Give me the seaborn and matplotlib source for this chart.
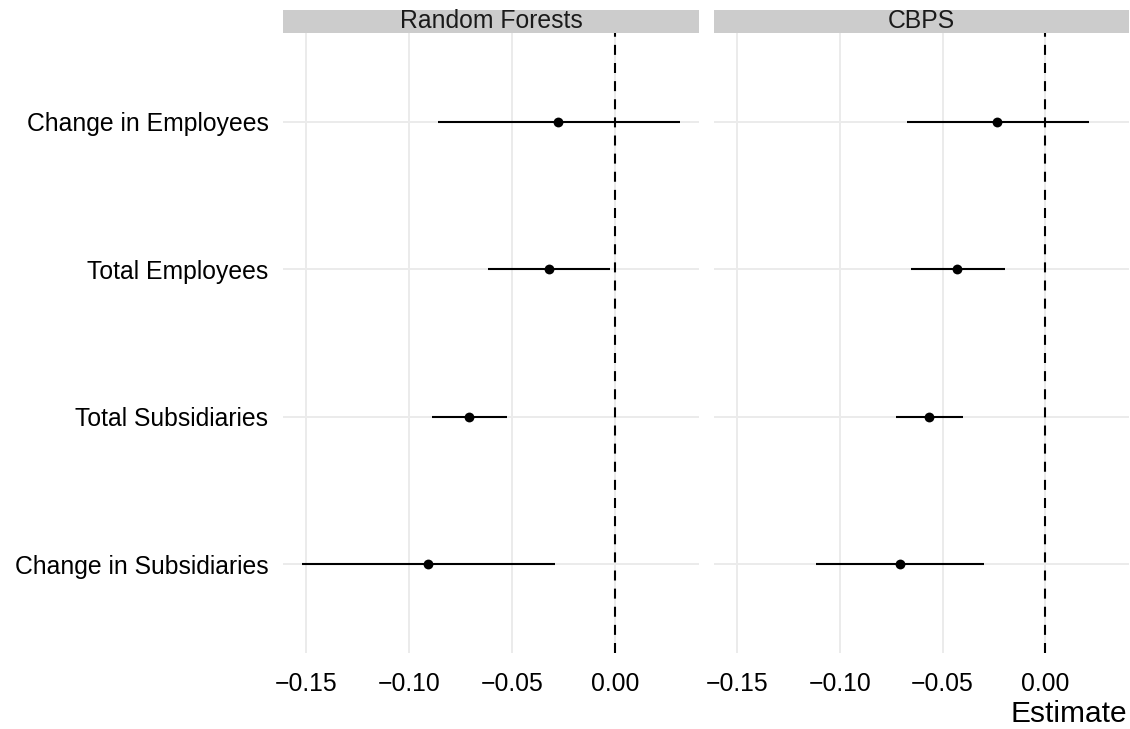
import numpy as np
import pandas as pd
import matplotlib
matplotlib.use("Agg")
import matplotlib.pyplot as plt
from matplotlib.patches import Rectangle
import seaborn as sns

# Outcomes, listed top to bottom
outcomes = ["Change in Employees", "Total Employees",
            "Total Subsidiaries", "Change in Subsidiaries"]
methods = ["Random Forests", "CBPS"]

# Point estimates and interval bounds per method
rf_est = [-0.0275, -0.0323, -0.0709, -0.0907]
rf_lo = [-0.0862, -0.0617, -0.0889, -0.1520]
rf_hi = [0.0315, -0.0024, -0.0523, -0.0294]

cbps_est = [-0.0234, -0.0428, -0.0567, -0.0709]
cbps_lo = [-0.0673, -0.0654, -0.0727, -0.1118]
cbps_hi = [0.0210, -0.0194, -0.0402, -0.0299]

x_ticks = [-0.15, -0.10, -0.05, 0.00]
x_tick_labels = ["\u22120.15", "\u22120.10", "\u22120.05", "0.00"]

frames = []
for m, est, lo, hi in [(methods[0], rf_est, rf_lo, rf_hi),
                       (methods[1], cbps_est, cbps_lo, cbps_hi)]:
    frames.append(pd.DataFrame({"method": m, "outcome": outcomes,
                                "pos": np.arange(len(outcomes)),
                                "estimate": est, "lo": lo, "hi": hi}))
df = pd.concat(frames, ignore_index=True)

sns.set_theme(style="white")
plt.rcParams["font.family"] = ["Liberation Sans", "DejaVu Sans"]

W, H = 1130, 729
fig = plt.figure(figsize=(W / 100, H / 100), dpi=100)

grid_col = "#EBEBEB"
tick_fs = 17.8

# shared x range with a 5% margin around the intervals
xmin, xmax = df["lo"].min(), df["hi"].max()
pad = 0.05 * (xmax - xmin)
xlim = (xmin - pad, xmax + pad)

panel_top, panel_bot = 33, 653
panels = [(283, 699), (714, 1129)]
strip_h = 23

for i, (m, (px0, px1)) in enumerate(zip(methods, panels)):
    ax = fig.add_axes([px0 / W, 1 - panel_bot / H, (px1 - px0) / W,
                       (panel_bot - panel_top) / H])
    sub = df[df["method"] == m]

    ax.set_xlim(*xlim)
    ax.set_ylim(len(outcomes) - 0.4, -0.6)
    ax.set_xticks(x_ticks)
    ax.set_xticklabels(x_tick_labels)
    ax.set_yticks(range(len(outcomes)))
    ax.set_yticklabels(outcomes if i == 0 else [])
    ax.grid(True, color=grid_col, linewidth=1.4, zorder=0)
    ax.set_axisbelow(True)
    for s in ax.spines.values():
        s.set_visible(False)
    ax.tick_params(axis="both", which="major", color=grid_col, width=1.4,
                   length=5, labelsize=tick_fs, labelcolor="black")
    ax.tick_params(axis="x", pad=8.5)
    ax.tick_params(axis="y", pad=5.5)

    ax.axvline(0, color="black", lw=1.5, ls=(0, (4.8, 3.9)), zorder=2)
    ax.hlines(sub["pos"], sub["lo"], sub["hi"], color="black", lw=1.5,
              zorder=3)
    sns.scatterplot(data=sub, x="estimate", y="pos", ax=ax, color="black",
                    s=50, edgecolor="black", linewidth=0, zorder=4,
                    legend=False)
    ax.set_xlabel("")
    ax.set_ylabel("")

    # facet strip
    sh = strip_h / (panel_bot - panel_top)
    ax.add_patch(Rectangle((0, 1), 1, sh, transform=ax.transAxes,
                           facecolor="#CCCCCC", edgecolor="none",
                           clip_on=False))
    ax.text(0.5, 1 + sh / 2, m, transform=ax.transAxes, ha="center",
            va="center", fontsize=tick_fs, color="#1A1A1A")

fig.text(1127 / W, 1 - 722 / H, "Estimate", ha="right", va="baseline",
         fontsize=21.5, color="black")

fig.savefig("out.png", dpi=100)
